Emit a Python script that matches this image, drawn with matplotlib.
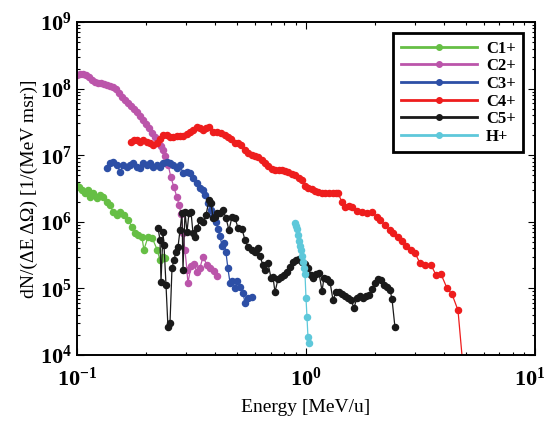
import math

import matplotlib

matplotlib.use("Agg")
import matplotlib.pyplot as plt
from matplotlib.lines import Line2D
from matplotlib.ticker import FuncFormatter, LogLocator, NullFormatter

plt.rcParams["font.family"] = "Liberation Serif"
plt.rcParams["mathtext.fontset"] = "custom"
plt.rcParams["mathtext.rm"] = "Liberation Serif"
plt.rcParams["mathtext.bf"] = "Liberation Serif:bold"

# energy [MeV/u] and dN/(dE dOmega) values
C1_E = [0.100, 0.102, 0.105, 0.108, 0.112, 0.114, 0.1175, 0.122, 0.126, 0.130,
        0.135, 0.139, 0.144, 0.150, 0.154, 0.160, 0.167, 0.174, 0.179, 0.185,
        0.192, 0.196, 0.204, 0.213, 0.224, 0.230, 0.237, 0.242]
C1_N = [3.4e6, 3.3e6, 3.0e6, 2.7e6, 3.0e6, 2.36e6, 2.7e6, 2.28e6, 2.5e6, 2.36e6,
        1.98e6, 1.79e6, 1.4e6, 1.26e6, 1.4e6, 1.26e6, 1.06e6, 8.4e5, 6.8e5, 6.3e5,
        5.9e5, 3.8e5, 5.9e5, 5.7e5, 3.8e5, 2.7e5, 2.96e5, 2.86e5]

C2_E = [0.100, 0.103, 0.106, 0.1095, 0.113, 0.116, 0.120, 0.1235, 0.127, 0.131,
        0.135, 0.139, 0.144, 0.148, 0.153, 0.157, 0.162, 0.167, 0.172, 0.177,
        0.183, 0.188, 0.194, 0.200, 0.206, 0.213, 0.219, 0.226, 0.233, 0.237,
        0.242, 0.250, 0.257, 0.265, 0.273, 0.279, 0.285, 0.290, 0.296, 0.302,
        0.305, 0.315, 0.324, 0.334, 0.344, 0.355, 0.370, 0.381, 0.397, 0.409]
C2_N = [1.60e8, 1.66e8, 1.66e8, 1.60e8, 1.49e8, 1.35e8, 1.26e8, 1.21e8, 1.21e8, 1.17e8,
        1.13e8, 1.09e8, 1.06e8, 9.9e7, 8.6e7, 7.5e7, 6.7e7, 6.1e7, 5.5e7, 4.9e7,
        4.5e7, 3.9e7, 3.4e7, 2.94e7, 2.56e7, 2.15e7, 1.88e7, 1.63e7, 1.37e7, 1.20e7,
        9.7e6, 7.1e6, 4.7e6, 3.3e6, 2.36e6, 1.79e6, 1.31e6, 6.8e5, 3.8e5, 1.89e5,
        1.2e5, 2.17e5, 2.32e5, 1.76e5, 2.02e5, 2.96e5, 2.24e5, 2.02e5, 1.82e5, 1.53e5]

C3_E = [0.135, 0.139, 0.144, 0.150, 0.154, 0.159, 0.165, 0.170, 0.176, 0.183,
        0.188, 0.194, 0.202, 0.208, 0.215, 0.2235, 0.230, 0.237, 0.247, 0.255,
        0.2625, 0.273, 0.282, 0.290, 0.302, 0.311, 0.321, 0.334, 0.344, 0.355,
        0.362, 0.373, 0.385, 0.393, 0.405, 0.413, 0.421, 0.430, 0.438, 0.447,
        0.456, 0.466, 0.475, 0.490, 0.500, 0.515, 0.531, 0.542, 0.558, 0.581]
C3_N = [6.4e6, 7.6e6, 7.9e6, 7.1e6, 5.6e6, 7.1e6, 6.7e6, 7.1e6, 7.6e6, 6.7e6,
        6.4e6, 7.6e6, 7.1e6, 7.6e6, 6.7e6, 7.1e6, 6.7e6, 7.6e6, 7.9e6, 7.6e6,
        7.1e6, 6.4e6, 7.1e6, 5.4e6, 5.6e6, 5.4e6, 4.55e6, 3.8e6, 3.2e6, 3.0e6,
        2.5e6, 1.91e6, 1.5e6, 1.22e6, 9.9e5, 7.8e5, 6.1e5, 4.3e5, 4.8e5, 3.5e5,
        2.0e5, 1.2e5, 1.29e5, 1.01e5, 1.29e5, 1.05e5, 8.5e4, 6.0e4, 7.2e4, 7.4e4]

C4_E = [0.172, 0.177, 0.183, 0.188, 0.194, 0.202, 0.208, 0.215, 0.2235, 0.230,
        0.237, 0.247, 0.255, 0.2625, 0.273, 0.282, 0.290, 0.302, 0.311, 0.321,
        0.334, 0.344, 0.355, 0.366, 0.377, 0.393, 0.409, 0.425, 0.443, 0.456,
        0.470, 0.490, 0.505, 0.520, 0.542, 0.558, 0.581, 0.599, 0.617, 0.643,
        0.662, 0.683, 0.710, 0.732, 0.762, 0.786, 0.810, 0.834, 0.869, 0.895,
        0.932, 0.961, 0.990, 1.020, 1.062, 1.095, 1.128, 1.175, 1.211, 1.260,
        1.312, 1.352, 1.380, 1.436, 1.480, 1.541, 1.588, 1.670, 1.756, 1.846,
        1.942, 2.042, 2.104, 2.213, 2.327, 2.399, 2.522, 2.626, 2.734, 2.874,
        2.992, 3.146, 3.309, 3.515, 3.696, 3.886, 4.128, 4.341, 4.611, 4.95]
C4_N = [1.58e7, 1.69e7, 1.69e7, 1.58e7, 1.69e7, 1.58e7, 1.52e7, 1.42e7, 1.52e7, 1.75e7,
        2.01e7, 2.01e7, 1.88e7, 1.88e7, 1.94e7, 1.94e7, 1.94e7, 2.08e7, 2.23e7, 2.39e7,
        2.65e7, 2.56e7, 2.39e7, 2.56e7, 2.65e7, 2.23e7, 2.23e7, 2.15e7, 2.01e7, 1.88e7,
        1.75e7, 1.52e7, 1.52e7, 1.42e7, 1.2e7, 1.08e7, 1.0e7, 9.7e6, 9.4e6, 8.5e6,
        7.6e6, 6.9e6, 6.2e6, 6.0e6, 6.0e6, 6.0e6, 5.8e6, 5.6e6, 5.2e6, 5.05e6,
        4.55e6, 4.25e6, 3.45e6, 3.22e6, 3.1e6, 2.9e6, 2.8e6, 2.7e6, 2.7e6, 2.7e6,
        2.7e6, 2.7e6, 2.7e6, 1.98e6, 1.67e6, 1.73e6, 1.67e6, 1.45e6, 1.4e6, 1.36e6,
        1.4e6, 1.18e6, 1.06e6, 8.95e5, 7.5e5, 6.8e5, 5.9e5, 5.15e5, 4.3e5, 3.8e5,
        3.4e5, 2.4e5, 2.25e5, 2.25e5, 1.59e5, 1.64e5, 1.01e5, 8.2e4, 4.7e4, 3.0e3]

C5_E = [0.2258, 0.2304, 0.2327, 0.2374, 0.2398, 0.2447, 0.2496, 0.2547, 0.2599, 0.2651,
        0.2705, 0.2761, 0.2817, 0.2874, 0.2903, 0.2962, 0.3022, 0.3083, 0.3147, 0.3209,
        0.3275, 0.3342, 0.3444, 0.3549, 0.3659, 0.3771, 0.3847, 0.3926, 0.4006, 0.4088,
        0.4211, 0.4341, 0.4473, 0.4609, 0.4751, 0.4897, 0.5047, 0.5255, 0.5416, 0.5582,
        0.5809, 0.5988, 0.6171, 0.6294, 0.6487, 0.6622, 0.6825, 0.7034, 0.7177, 0.7321,
        0.7546, 0.7777, 0.8016, 0.8262, 0.8515, 0.8774, 0.9045, 0.9320, 0.9605, 0.9900,
        1.020, 1.051, 1.073, 1.106, 1.140, 1.175, 1.198, 1.235, 1.273, 1.312,
        1.352, 1.393, 1.436, 1.480, 1.525, 1.572, 1.620, 1.670, 1.721, 1.774,
        1.828, 1.884, 1.942, 2.001, 2.063, 2.126, 2.191, 2.258, 2.327, 2.375, 2.447]
C5_N = [8.1e5, 5.3e5, 1.25e5, 7.0e5, 4.5e5, 1.12e5, 2.6e4, 3.0e4, 2.02e5, 2.67e5,
        3.5e5, 4.2e5, 7.5e5, 1.36e6, 1.89e5, 1.40e6, 7.0e5, 1.36e6, 1.40e6, 6.8e5,
        5.9e5, 8.1e5, 1.06e6, 9.9e5, 1.26e6, 2.12e6, 1.91e6, 1.14e6, 1.18e6, 1.36e6,
        1.36e6, 1.50e6, 1.14e6, 7.5e5, 1.18e6, 1.14e6, 8.1e5, 7.8e5, 5.3e5, 4.2e5,
        3.8e5, 3.5e5, 4.05e5, 3.06e5, 2.24e5, 1.89e5, 2.4e5, 1.43e5, 1.48e5, 8.8e4,
        1.38e5, 1.48e5, 1.59e5, 1.76e5, 2.1e5, 2.49e5, 2.67e5, 2.76e5, 2.49e5, 2.32e5,
        2.02e5, 1.59e5, 1.43e5, 1.64e5, 1.70e5, 9.1e4, 1.43e5, 1.38e5, 1.25e5, 6.7e4,
        8.8e4, 8.8e4, 8.2e4, 7.7e4, 7.2e4, 6.7e4, 5.1e4, 7.2e4, 7.7e4, 7.2e4,
        7.7e4, 8.0e4, 9.8e4, 1.2e5, 1.38e5, 1.34e5, 1.12e5, 1.05e5, 9.5e4, 6.9e4, 2.6e4]

H_E = [0.895, 0.9045, 0.9135, 0.923, 0.932, 0.941, 0.951, 0.9605, 0.970, 0.980,
       0.990, 1.000, 1.010, 1.020, 1.031]
H_N = [9.6e5, 8.65e5, 7.8e5, 6.3e5, 5.15e5, 4.3e5, 3.8e5, 3.06e5, 2.5e5, 2.02e5,
       1.64e5, 7.2e4, 3.7e4, 1.86e4, 1.51e4]

LABELS = ["C1+", "C2+", "C3+", "C4+", "C5+", "H+"]
COLORS = ["#66bf45", "#bb55aa", "#2d4fa6", "#ee1d1d", "#1a1a1a", "#5ec8da"]
XMAX = 10


def pow10(v, _):
    # the label at the right edge is drawn separately, nudged inward
    if math.isclose(v, XMAX):
        return ""
    return r"$\mathbf{10^{%d}}$" % round(math.log10(v))


def main():
    series = [(C1_E, C1_N), (C2_E, C2_N), (C3_E, C3_N),
              (C4_E, C4_N), (C5_E, C5_N), (H_E, H_N)]
    fig = plt.figure(figsize=(5.47, 4.21), dpi=100)
    ax = fig.add_axes([0.1408, 0.1568, 0.8372, 0.7909])
    for (e, n), c in zip(series, COLORS):
        ax.plot(e, n, "-o", color=c, lw=0.9, ms=4.4, mec=c, mfc=c)

    ax.set_xscale("log")
    ax.set_yscale("log")
    ax.set_xlim(0.1, XMAX)
    ax.set_ylim(1e4, 1e9)

    for axis in (ax.xaxis, ax.yaxis):
        axis.set_major_locator(LogLocator(base=10, numticks=12))
        axis.set_minor_locator(LogLocator(base=10, subs=range(2, 10), numticks=12))
        axis.set_major_formatter(FuncFormatter(pow10))
        axis.set_minor_formatter(NullFormatter())
    ax.tick_params(which="both", direction="in", top=True, right=True, width=0.8)
    ax.tick_params(which="major", length=5, labelsize=16)
    ax.tick_params(which="minor", length=2.5)
    ax.tick_params(axis="y", pad=4)
    ax.tick_params(axis="x", pad=9)
    for sp in ax.spines.values():
        sp.set_linewidth(1.4)
    ax.annotate(r"$\mathbf{10^{1}}$", xy=(XMAX, 1e4), xycoords="data",
                xytext=(-4, -9), textcoords="offset points",
                ha="center", va="top", fontsize=16, annotation_clip=False)

    ax.set_xlabel("Energy [MeV/u]", fontsize=14, labelpad=6)
    ax.set_ylabel("dN/(ΔE ΔΩ) [1/(MeV msr)]", fontsize=14, labelpad=1)

    handles = [Line2D([], [], color=c, lw=2, marker="o", ms=4) for c in COLORS]
    leg = ax.legend(handles, LABELS, loc="upper right", bbox_to_anchor=(0.974, 0.967),
                    borderaxespad=0, fancybox=False, framealpha=1, edgecolor="black",
                    handlelength=4.6, handletextpad=0.5, labelspacing=0.1,
                    prop={"size": 12, "weight": "bold"}, borderpad=0.45)
    leg.get_frame().set_linewidth(2)

    fig.savefig("out.png", dpi=100)
    plt.close(fig)


if __name__ == "__main__":
    main()
